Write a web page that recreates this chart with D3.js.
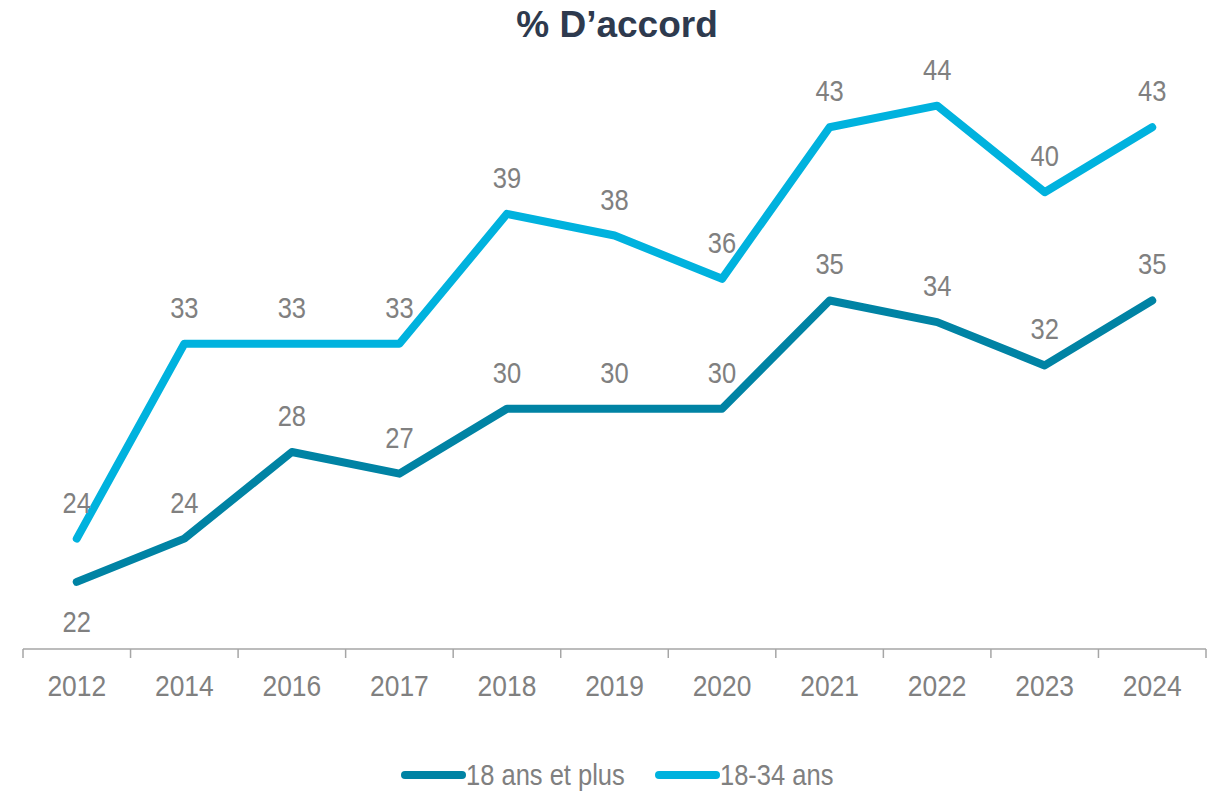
<!DOCTYPE html>
<html>
<head>
<meta charset="utf-8">
<script src="https://cdn.jsdelivr.net/npm/d3@7"></script>
<style>
  body { margin: 0; background: #fff; }
  svg text { font-family: "Liberation Sans Narrow", "Liberation Sans", Arial, sans-serif; fill: #808080; }
  .title { font-family: "Liberation Sans", Arial, sans-serif; font-weight: bold; fill: #2e3a4e; }
</style>
</head>
<body>
<svg id="chart" width="1217" height="792"></svg>
<script>
var years = ["2012", "2014", "2016", "2017", "2018", "2019", "2020", "2021", "2022", "2023", "2024"];
var seriesNames = ["18 ans et plus", "18-34 ans"];
var allAdults = [22, 24, 28, 27, 30, 30, 30, 35, 34, 32, 35];
var young = [24, 33, 33, 33, 39, 38, 36, 43, 44, 40, 43];
var colors = ["#0083a4", "#00b2de"];

// narrow look: squeeze the regular face horizontally
var squeeze = 0.88;
function place(px, py) {
    return "translate(" + px + "," + py + ") scale(" + squeeze + ",1)";
}

function drawChart() {
    var svg = d3.select("#chart");

    var left = 23, right = 1206, bottom = 649, top = 84;

    var x = d3.scaleBand()
        .domain(years)
        .range([left, right]);

    var y = d3.scaleLinear()
        .domain([18.9, 45])
        .range([bottom, top]);

    svg.append("text")
        .attr("class", "title")
        .attr("x", 617)
        .attr("y", 37)
        .attr("text-anchor", "middle")
        .style("font-size", "37px")
        .text("% D\u2019accord");

    // x axis with ticks at the band edges
    var axis = svg.append("g");
    axis.append("line")
        .attr("x1", left).attr("x2", right)
        .attr("y1", bottom).attr("y2", bottom)
        .attr("stroke", "#a6a6a6").attr("stroke-width", 1.5);

    var edges = years.map(function(d) { return x(d); }).concat([right]);
    axis.selectAll(".tick")
        .data(edges)
        .enter().append("line")
        .attr("x1", function(d) { return d; })
        .attr("x2", function(d) { return d; })
        .attr("y1", bottom).attr("y2", bottom + 9)
        .attr("stroke", "#a6a6a6").attr("stroke-width", 1.5);

    axis.selectAll(".lab")
        .data(years)
        .enter().append("text")
        .attr("transform", function(d) { return place(x(d) + x.bandwidth() / 2, 696); })
        .attr("text-anchor", "middle")
        .style("font-size", "30px")
        .text(function(d) { return d; });

    var line = d3.line()
        .x(function(d, i) { return x(years[i]) + x.bandwidth() / 2; })
        .y(function(d) { return y(d); });

    var data = [allAdults, young];

    data.forEach(function(vals, s) {
        svg.append("path")
            .datum(vals)
            .attr("d", line)
            .attr("fill", "none")
            .attr("stroke", colors[s])
            .attr("stroke-width", 8)
            .attr("stroke-linejoin", "round")
            .attr("stroke-linecap", "round");
    });

    data.forEach(function(vals, s) {
        svg.append("g").selectAll("text")
            .data(vals)
            .enter().append("text")
            .attr("transform", function(d, i) {
                var px = x(years[i]) + x.bandwidth() / 2;
                // first point of the lower series is labelled below
                var py = (s === 0 && i === 0) ? y(d) + 50 : y(d) - 26;
                return place(px, py);
            })
            .attr("text-anchor", "middle")
            .style("font-size", "29px")
            .text(function(d) { return d; });
    });

    // legend
    var legendX = [405, 659];
    var legend = svg.append("g");
    seriesNames.forEach(function(name, s) {
        legend.append("line")
            .attr("x1", legendX[s]).attr("x2", legendX[s] + 57)
            .attr("y1", 775).attr("y2", 775)
            .attr("stroke", colors[s])
            .attr("stroke-width", 8)
            .attr("stroke-linecap", "round");
        legend.append("text")
            .attr("transform", place(legendX[s] + 61, 785))
            .style("font-size", "29px")
            .text(name);
    });
}

drawChart();
</script>
</body>
</html>
